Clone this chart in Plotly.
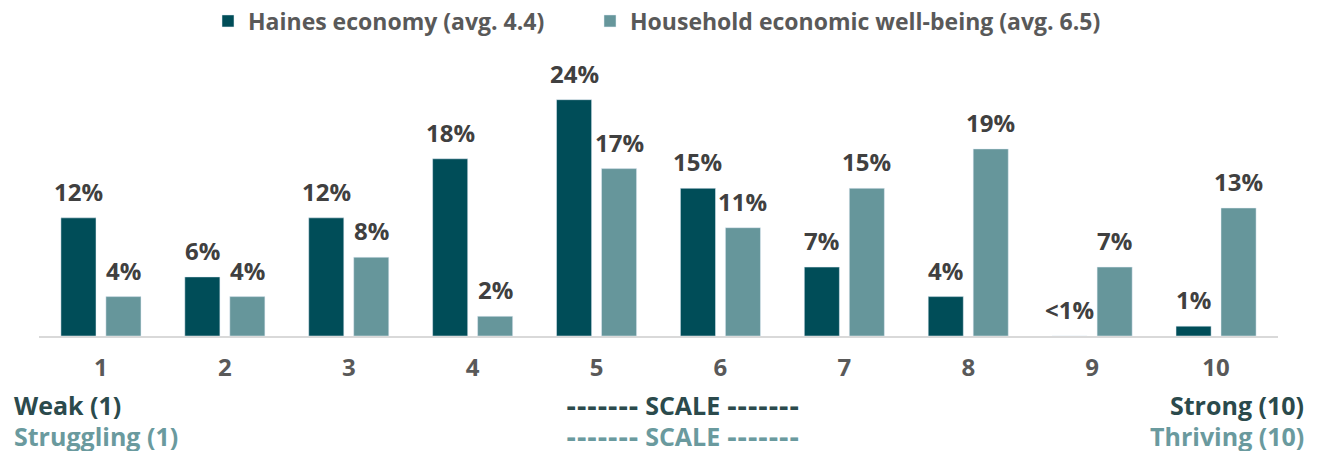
import plotly.graph_objects as go

# ---- data ----
categories = [1, 2, 3, 4, 5, 6, 7, 8, 9, 10]
haines_values = [12, 6, 12, 18, 24, 15, 7, 4, 0, 1]
haines_labels = ["12%", "6%", "12%", "18%", "24%", "15%", "7%", "4%", "<1%", "1%"]
household_values = [4, 4, 8, 2, 17, 11, 15, 19, 7, 13]
household_labels = ["4%", "4%", "8%", "2%", "17%", "11%", "15%", "19%", "7%", "13%"]
series_names = ["Haines economy (avg. 4.4)", "Household economic well-being (avg. 6.5)"]

# ---- style ----
PAGE_OFF = 8  # default body margin of the html page
W, H = 1321 - PAGE_OFF, 451 - PAGE_OFF
ML, MR, MT, MB = 39 - PAGE_OFF, 43, 80 - PAGE_OFF, 115
DARK = "#004D58"
LIGHT = "#66969B"
LABEL_C = "#404040"
TICK_C = "#595959"
FONT = "Open Sans, Noto Sans, sans-serif"
FS_LEG = 23
FS_LBL = 24
FS_TICK = 24
FS_BOT = 25
BARGAP = 0.274
BARGROUPGAP = 0.22
YMAX = 26

pw = W - ML - MR
ph = H - MT - MB


def px2paper(px, py):
    fx, fy = px - PAGE_OFF, py - PAGE_OFF
    return (fx - ML) / pw, (H - MB - fy) / ph


fig = go.Figure()
fig.add_trace(go.Bar(x=categories, y=haines_values, name=series_names[0],
                     marker=dict(color=DARK), legend="legend"))
fig.add_trace(go.Bar(x=categories, y=household_values, name=series_names[1],
                     marker=dict(color=LIGHT), legend="legend2"))

offset = (1 - BARGAP) / 4
ann = []
for c, v, t in zip(categories, haines_values, haines_labels):
    ann.append(dict(x=c - offset, y=v, xref="x", yref="y", text=t, showarrow=False,
                    yanchor="bottom", yshift=8,
                    font=dict(family=FONT, size=FS_LBL, color=LABEL_C, weight="bold")))
for c, v, t in zip(categories, household_values, household_labels):
    ann.append(dict(x=c + offset, y=v, xref="x", yref="y", text=t, showarrow=False,
                    yanchor="bottom", yshift=8,
                    font=dict(family=FONT, size=FS_LBL, color=LABEL_C, weight="bold")))

dash = '<span style="font-family:DejaVu Sans">-------</span>'
scale_text = dash + " SCALE " + dash
bottom = [
    ("Weak (1)", 12, 405, "left", "#2B4A4C"),
    (scale_text, 682, 405, "center", "#2B4A4C"),
    ("Strong (10)", 1306, 405, "right", "#2B4A4C"),
    ("Struggling (1)", 12, 436, "left", "#6A9A9E"),
    (scale_text, 682, 436, "center", "#6A9A9E"),
    ("Thriving (10)", 1306, 436, "right", "#6A9A9E"),
]
for text, bx, by, anchor, col in bottom:
    xp, yp = px2paper(bx, by)
    ann.append(dict(x=xp, y=yp, xref="paper", yref="paper", text=text, showarrow=False,
                    xanchor=anchor, yanchor="middle",
                    font=dict(family=FONT, size=FS_BOT, color=col, weight="bold")))

legend_font = dict(family=FONT, size=FS_LEG, color=TICK_C, weight="bold")
leg_y = 1 - (21 - PAGE_OFF) / H
fig.update_layout(
    width=W, height=H,
    margin=dict(l=ML, r=MR, t=MT, b=MB),
    paper_bgcolor="white", plot_bgcolor="white",
    barmode="group", bargap=BARGAP, bargroupgap=BARGROUPGAP,
    showlegend=True,
    legend=dict(orientation="h", x=(208 - PAGE_OFF) / W, xanchor="left", xref="container",
                y=leg_y, yanchor="middle", yref="container", font=legend_font, itemwidth=30),
    legend2=dict(orientation="h", x=(590 - PAGE_OFF) / W, xanchor="left", xref="container",
                 y=leg_y, yanchor="middle", yref="container", font=legend_font, itemwidth=30),
    annotations=ann,
    font=dict(family=FONT),
)
fig.update_xaxes(tickmode="array", tickvals=categories, ticktext=[str(c) for c in categories],
                 range=[0.5, 10.5], showgrid=False, zeroline=False,
                 showline=True, linecolor="#D9D9D9", linewidth=2, ticks="",
                 ticklabelstandoff=9,
                 tickfont=dict(family=FONT, size=FS_TICK, color=TICK_C, weight="bold"))
fig.update_yaxes(range=[0, YMAX], visible=False, showgrid=False, zeroline=False)

fig.write_html("out.html")
